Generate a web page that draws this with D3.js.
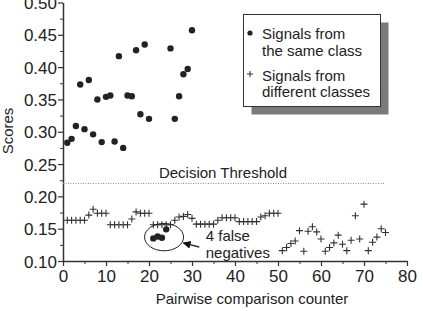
<html>
  <head>
    <meta content="text/html; charset=utf-8" http-equiv="Content-Type">
    <style>
    body { margin: 0; background: white; }
    svg text { font-family: 'Liberation Sans', Arial, sans-serif; fill: #222; }
    </style>
  </head>
  <body>
    <svg id="svg"></svg>

<script src="https://d3js.org/d3.v7.min.js"></script>
<script>

// pairwise counter for each series
const sameCounter = [1,2,3,4,5,6,7,8,9,10,11,12,13,14,15,16,17,18,19,20,21,22,23,24,25,26,27,28,29,30];
const sameScores = [0.283,0.289,0.309,0.373,0.304,0.380,0.296,0.350,0.284,0.354,
                    0.356,0.285,0.417,0.275,0.356,0.355,0.426,0.327,0.435,0.320,
                    0.135,0.138,0.136,0.149,0.429,0.320,0.355,0.389,0.397,0.457];

const diffCounter = [1,2,3,4,5,6,7,8,9,10,11,12,13,14,15,16,17,18,19,20,21,22,23,24,25,
                     26,27,28,29,30,31,32,33,34,35,36,37,38,39,40,41,42,43,44,45,46,47,48,49,50,
                     51,52,53,54,55,56,57,58,59,60,61,62,63,64,65,66,67,68,69,70,71,72,73,74,75];
const diffScores = [0.163,0.163,0.163,0.163,0.163,0.171,0.180,0.174,0.174,0.174,
                    0.156,0.156,0.156,0.156,0.156,0.165,0.176,0.174,0.174,0.174,
                    0.156,0.156,0.156,0.156,0.156,0.163,0.168,0.169,0.172,0.166,
                    0.157,0.157,0.157,0.157,0.157,0.163,0.167,0.167,0.167,0.167,
                    0.161,0.161,0.161,0.161,0.161,0.168,0.170,0.174,0.174,0.174,
                    0.116,0.121,0.127,0.131,0.147,0.115,0.146,0.153,0.145,0.134,
                    0.115,0.121,0.128,0.140,0.126,0.116,0.132,0.170,0.134,0.188,
                    0.116,0.129,0.137,0.150,0.144];

const threshold = 0.22;
const thresholdEnd = 75;
const falseNegatives = [21,22,23,24];

const xTicks = [0,10,20,30,40,50,60,70,80];
const xMinorTicks = [5,15,25,35,45,55,65,75];
const yTicks = [0.10,0.15,0.20,0.25,0.30,0.35,0.40,0.45,0.50];
const yMinorTicks = [0.125,0.175,0.225,0.275,0.325,0.375,0.425,0.475];

const legendLabels = [["Signals from", "the same class"], ["Signals from", "different classes"]];

const marginLeft = 63;
const marginTop = 2.5;
const width = 344;
const height = 258.5;

const svg = d3.select("#svg")
    .attr("width", 423)
    .attr("height", 311);

const xScale = d3.scaleLinear().domain([0, 80]).range([0, width]);
const yScale = d3.scaleLinear().domain([0.1, 0.5]).range([height, 0]);

const chart = svg.append("g")
    .attr("transform", `translate(${marginLeft}, ${marginTop})`);

// minor ticks first so the main axes sit on top
chart.append("g")
    .attr("transform", `translate(0, ${height})`)
    .call(d3.axisBottom(xScale).tickValues(xMinorTicks).tickSize(3).tickFormat(""))
    .call(g => g.select(".domain").remove())
    .call(g => g.selectAll("line").attr("stroke", "#333"));

chart.append("g")
    .call(d3.axisLeft(yScale).tickValues(yMinorTicks).tickSize(3).tickFormat(""))
    .call(g => g.select(".domain").remove())
    .call(g => g.selectAll("line").attr("stroke", "#333"));

const xAxis = chart.append("g")
    .attr("transform", `translate(0, ${height})`)
    .call(d3.axisBottom(xScale).tickValues(xTicks).tickSize(5).tickSizeOuter(0).tickPadding(4).tickFormat(d3.format("d")));

const yAxis = chart.append("g")
    .call(d3.axisLeft(yScale).tickValues(yTicks).tickSize(5).tickSizeOuter(0).tickPadding(1).tickFormat(d3.format(".2f")));

[xAxis, yAxis].forEach(function(a) {
  a.select(".domain").attr("stroke", "#333").attr("stroke-width", 1.5);
  a.selectAll("line").attr("stroke", "#333").attr("stroke-width", 1.2);
  a.selectAll("text").attr("font-size", 17).attr("fill", "#222").attr("font-family", "'Liberation Sans', Arial, sans-serif");
});
yAxis.selectAll("text").attr("dy", "0.36em");

// decision threshold
chart.append("line")
    .attr("x1", xScale(0))
    .attr("x2", xScale(thresholdEnd))
    .attr("y1", yScale(threshold))
    .attr("y2", yScale(threshold))
    .attr("stroke", "#888")
    .attr("stroke-width", 1)
    .attr("stroke-dasharray", "1,1.5");

chart.append("text")
    .attr("x", xScale(37.2))
    .attr("y", yScale(threshold) - 5)
    .attr("text-anchor", "middle")
    .attr("font-size", 15)
    .text("Decision Threshold");

// different classes: crosses
const diffData = diffCounter.map(function(c, i) { return {x: c, y: diffScores[i]}; });
chart.selectAll(".cross")
    .data(diffData)
    .enter().append("path")
    .attr("class", "cross")
    .attr("d", function(d) {
      const cx = xScale(d.x), cy = yScale(d.y), s = 3.5;
      return `M${cx - s},${cy}H${cx + s}M${cx},${cy - s}V${cy + s}`;
    })
    .attr("stroke", "#333")
    .attr("stroke-width", 1.1)
    .attr("fill", "none");

// same class: dots
const sameData = sameCounter.map(function(c, i) { return {x: c, y: sameScores[i]}; });
chart.selectAll(".dot")
    .data(sameData)
    .enter().append("circle")
    .attr("class", "dot")
    .attr("cx", function(d) { return xScale(d.x); })
    .attr("cy", function(d) { return yScale(d.y); })
    .attr("r", 3.2)
    .attr("fill", "#222");

// circle round the false negatives
const fnX = d3.mean(falseNegatives) + 1;
chart.append("ellipse")
    .attr("cx", xScale(fnX))
    .attr("cy", yScale(0.137))
    .attr("rx", 19.5)
    .attr("ry", 13.7)
    .attr("fill", "none")
    .attr("stroke", "#222")
    .attr("stroke-width", 1);

svg.append("defs").append("marker")
    .attr("id", "arrow")
    .attr("viewBox", "0 0 10 10")
    .attr("refX", 9).attr("refY", 5)
    .attr("markerWidth", 8).attr("markerHeight", 8)
    .attr("markerUnits", "userSpaceOnUse")
    .attr("orient", "auto")
    .append("path")
    .attr("d", "M0,0L10,5L0,10Z")
    .attr("fill", "#111");

chart.append("line")
    .attr("x1", xScale(31.7)).attr("y1", yScale(0.1215))
    .attr("x2", xScale(28.0)).attr("y2", yScale(0.128))
    .attr("stroke", "#111")
    .attr("stroke-width", 1.2)
    .attr("marker-end", "url(#arrow)");

const note = chart.append("text")
    .attr("x", xScale(33.2))
    .attr("font-size", 15);
note.append("tspan").attr("x", xScale(33.2)).attr("y", yScale(0.1305)).text("4 false");
note.append("tspan").attr("x", xScale(33.2)).attr("y", yScale(0.105)).text("negatives");

// axis titles
svg.append("text")
    .attr("transform", "translate(13, 131) rotate(-90)")
    .attr("text-anchor", "middle")
    .attr("font-size", 15)
    .text("Scores");

svg.append("text")
    .attr("x", 252)
    .attr("y", 304)
    .attr("text-anchor", "middle")
    .attr("font-size", 15)
    .text("Pairwise comparison counter");

// legend with drop shadow
const legend = svg.append("g").attr("transform", "translate(243.5, 14.5)");
legend.append("rect")
    .attr("x", 8).attr("y", 8)
    .attr("width", 137).attr("height", 92)
    .attr("fill", "#7a7a7a");
legend.append("rect")
    .attr("width", 137).attr("height", 92)
    .attr("fill", "white")
    .attr("stroke", "#333")
    .attr("stroke-width", 1);

legend.append("circle")
    .attr("cx", 6.5).attr("cy", 18.5)
    .attr("r", 2.6)
    .attr("fill", "#222");
legend.append("path")
    .attr("d", "M3.5,59.5H9.5M6.5,56.5V62.5")
    .attr("stroke", "#333")
    .attr("stroke-width", 1);

legendLabels.forEach(function(lines, i) {
  const t = legend.append("text").attr("font-size", 15);
  lines.forEach(function(line, j) {
    t.append("tspan")
      .attr("x", 18.5)
      .attr("y", 24.5 + i * 41.5 + j * 16.5)
      .text(line);
  });
});

</script>
</body>
</html>
